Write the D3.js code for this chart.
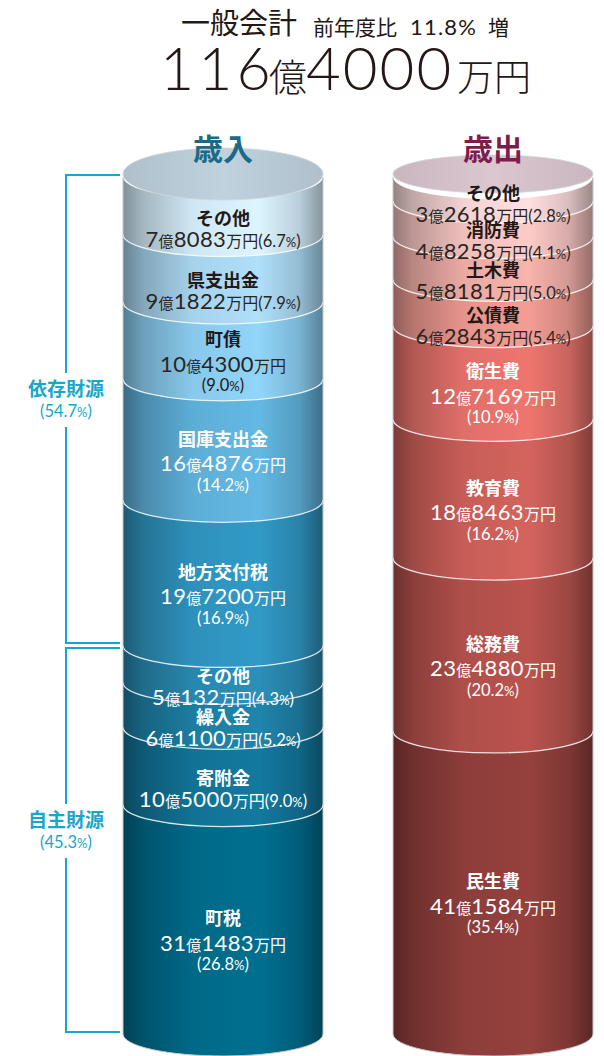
<!DOCTYPE html>
<html><head><meta charset="utf-8">
<script src="https://cdn.jsdelivr.net/npm/d3@7"></script>
<style>html,body{margin:0;padding:0;background:#fff;}svg{display:block;}</style>
</head><body>
<svg id="chart" width="604" height="1056"></svg>
<script>
// ---- data (amounts in 万円) ----
const leftCategories = ["その他","県支出金","町債","国庫支出金","地方交付税","その他","繰入金","寄附金","町税"];
const leftValues = [78083,91822,104300,164876,197200,50132,61100,105000,311483];
const leftPercents = ["6.7","7.9","9.0","14.2","16.9","4.3","5.2","9.0","26.8"];
const leftPctOwnLine = [false,false,true,true,true,false,false,false,true];
const rightCategories = ["その他","消防費","土木費","公債費","衛生費","教育費","総務費","民生費"];
const rightValues = [32618,48258,58181,62843,127169,188463,234880,411584];
const rightPercents = ["2.8","4.1","5.0","5.4","10.9","16.2","20.2","35.4"];
const rightPctOwnLine = [false,false,false,false,true,true,true,true];
const groupNames = ["依存財源","自主財源"];
const groupPercents = ["54.7","45.3"];
const groupSizes = [5,4];
const totalOku = "116", totalMan = "4000";
const growthPct = "11.8";

const leftColors = ["#d3ebf8","#a9d6f0","#8acdf0","#5fb1da","#2f94bf","#2989b1","#1e7fa4","#127498","#006b8a"];
const rightColors = ["#f6d6d6","#f2c2bf","#eeaca6","#e9978f","#e4716a","#cb5f59","#b2504b","#8f3e3b"];

const svg = d3.select("#chart");
const defs = svg.append("defs");
const JP = "'Noto Sans CJK JP','Noto Sans',sans-serif";
const NUM = "Lato,'Noto Sans',sans-serif";

const total = d3.sum(leftValues);
const y = d3.scaleLinear().domain([0, total]).range([177, 1034]);
const rx = 100, ry = 22;

function segPath(cx, ya, yb){
  return `M${cx-rx},${ya}A${rx},${ry} 0 0 0 ${cx+rx},${ya}L${cx+rx},${yb}A${rx},${ry} 0 0 1 ${cx-rx},${yb}Z`;
}

function valueText(sel, v, pct, inlinePct, dark){
  const oku = Math.floor(v/10000), man = v % 10000;
  sel.attr("fill", dark ? "#2b2522" : "#ffffff");
  sel.append("tspan").attr("font-family", NUM).attr("font-weight",400).attr("font-size",22).attr("letter-spacing",0.4).text(oku);
  sel.append("tspan").attr("font-family", JP).attr("font-size",15).text("億");
  sel.append("tspan").attr("font-family", NUM).attr("font-weight",400).attr("font-size",22).attr("letter-spacing",0.4).text(man);
  sel.append("tspan").attr("font-family", JP).attr("font-size",16).text("万円");
  if (inlinePct) pctSpans(sel, pct);
}
function pctSpans(sel, pct){
  sel.append("tspan").attr("font-family", NUM).attr("font-weight",400).attr("font-size",16.5).text("(" + pct);
  sel.append("tspan").attr("font-family", NUM).attr("font-weight",400).attr("font-size",13).text("%");
  sel.append("tspan").attr("font-family", NUM).attr("font-weight",400).attr("font-size",16.5).text(")");
}

function cylinder(id, cx, cats, vals, pcts, ownLine, colors, capColor, capRy, darkCount){
  const g = svg.append("g");
  let cum = 0;
  const segs = vals.map((v,i)=>{ const a = cum; cum += v; return {i, a, b: cum, v}; });
  segs.forEach(s=>{
    const c = d3.color(colors[s.i]);
    const grad = defs.append("linearGradient").attr("id", `${id}${s.i}`)
      .attr("gradientUnits","userSpaceOnUse").attr("x1",cx-rx).attr("x2",cx+rx).attr("y1",0).attr("y2",0);
    [[0,c.darker(1.4)],[0.1,c.darker(0.7)],[0.35,c.darker(0.05)],[0.68,c.brighter(0.12)],[0.88,c.darker(0.35)],[1,c.darker(1.3)]]
      .forEach(([o,col])=>grad.append("stop").attr("offset",o).attr("stop-color",col.formatHex()));
    g.append("path").attr("d", segPath(cx, y(s.a), y(s.b))).attr("fill", `url(#${id}${s.i})`);
  });
  segs.slice(1).forEach(s=>{
    g.append("path").attr("d", `M${cx-rx},${y(s.a)}A${rx},${ry} 0 0 0 ${cx+rx},${y(s.a)}`)
      .attr("fill","none").attr("stroke","rgba(255,255,255,0.8)").attr("stroke-width",1.3);
  });
  g.append("path").attr("d", `M${cx-rx},${y(0)}L${cx-rx},${y(total)}A${rx},${ry} 0 0 0 ${cx+rx},${y(total)}L${cx+rx},${y(0)}`)
    .attr("fill","none").attr("stroke","#c4c8cb").attr("stroke-width",1);
  const cc = d3.color(capColor);
  const cg = defs.append("linearGradient").attr("id", `${id}cap`)
    .attr("gradientUnits","userSpaceOnUse").attr("x1",cx-rx).attr("x2",cx+rx).attr("y1",0).attr("y2",0);
  [[0,cc.darker(0.25)],[0.5,cc],[1,cc.darker(0.25)]].forEach(([o,col])=>cg.append("stop").attr("offset",o).attr("stop-color",col.formatHex()));
  g.append("ellipse").attr("cx",cx).attr("cy",y(0)-3).attr("rx",rx).attr("ry",capRy)
    .attr("fill",`url(#${id}cap)`).attr("stroke","#d0d6da").attr("stroke-width",0.8);
  segs.forEach(s=>{
    const ya = y(s.a), yb = y(s.b), h = yb - ya;
    const c = (ya+yb)/2 + Math.min(ry, 0.6*h);
    const dark = s.i < darkCount;
    const col = dark ? "#231815" : "#ffffff";
    const three = ownLine[s.i];
    g.append("text").attr("x",cx).attr("y", three ? c-16 : c-3).attr("text-anchor","middle")
      .attr("font-family",JP).attr("font-weight",700).attr("font-size",18).attr("fill",col).text(cats[s.i]);
    const vt = g.append("text").attr("x",cx).attr("y", three ? c+9.5 : c+19).attr("text-anchor","middle");
    valueText(vt, s.v, pcts[s.i], !three, dark);
    if (three){
      const pt = g.append("text").attr("x",cx).attr("y", c+29).attr("text-anchor","middle").attr("fill",col);
      pctSpans(pt, pcts[s.i]);
    }
  });
  return segs;
}

const leftSegs = cylinder("L", 223, leftCategories, leftValues, leftPercents, leftPctOwnLine, leftColors, "#bfd2de", 26, 3);
cylinder("R", 493, rightCategories, rightValues, rightPercents, rightPctOwnLine, rightColors, "#dcc7d0", 19, 4);

svg.append("text").attr("x",223).attr("y",160).attr("text-anchor","middle").attr("font-family",JP)
  .attr("font-weight",700).attr("font-size",30).attr("fill","#1b6a86").text("歳入");
svg.append("text").attr("x",493).attr("y",160).attr("text-anchor","middle").attr("font-family",JP)
  .attr("font-weight",700).attr("font-size",30).attr("fill","#7b1d4d").text("歳出");

const bColor = "#19a6cc";
let k = 0;
groupSizes.forEach((n, gi)=>{
  const a = leftSegs[k].a, b = leftSegs[k+n-1].b;
  k += n;
  const top = y(a) + (gi === 0 ? -2 : 2.5);
  const bot = y(b) - (gi === groupSizes.length-1 ? 2 : 2.5);
  svg.append("path").attr("d", `M120,${top}H66V${bot}H120`).attr("fill","none")
    .attr("stroke",bColor).attr("stroke-width",2);
  const mid = (top+bot)/2;
  svg.append("rect").attr("x",56).attr("y",mid-36).attr("width",20).attr("height",54).attr("fill","#fff");
  svg.append("text").attr("x",66).attr("y",mid-13).attr("text-anchor","middle").attr("font-family",JP)
    .attr("font-weight",700).attr("font-size",19).attr("fill",bColor).text(groupNames[gi]);
  const pt = svg.append("text").attr("x",66).attr("y",mid+8).attr("text-anchor","middle").attr("fill",bColor);
  pctSpans(pt, groupPercents[gi]);
});

const ink = "#231815";
svg.append("text").attr("x",181).attr("y",34).attr("font-family",JP).attr("font-weight",400)
  .attr("font-size",29).attr("fill",ink).text("一般会計");
svg.append("text").attr("x",313).attr("y",35).attr("font-family",JP).attr("font-weight",400)
  .attr("font-size",21).attr("fill",ink).text("前年度比");
svg.append("text").attr("x",410).attr("y",35).attr("font-family",NUM).attr("font-weight",400)
  .attr("font-size",22).attr("letter-spacing",1.2).attr("fill",ink).text(growthPct + "%");
svg.append("text").attr("x",488).attr("y",35).attr("font-family",JP).attr("font-weight",400)
  .attr("font-size",21).attr("fill",ink).text("増");
svg.append("text").attr("x",160).attr("y",90).attr("font-family",NUM).attr("font-weight",300)
  .attr("font-size",59).attr("letter-spacing",4).attr("fill",ink).text(totalOku);
svg.append("text").attr("x",269).attr("y",91).attr("font-family",JP).attr("font-weight",300)
  .attr("font-size",38).attr("fill",ink).text("億");
svg.append("text").attr("x",306).attr("y",90).attr("font-family",NUM).attr("font-weight",300)
  .attr("font-size",60).attr("letter-spacing",2).attr("fill",ink).text(totalMan);
svg.append("text").attr("x",457).attr("y",91).attr("font-family",JP).attr("font-weight",300)
  .attr("font-size",37).attr("fill",ink).text("万円");
</script>
</body></html>
